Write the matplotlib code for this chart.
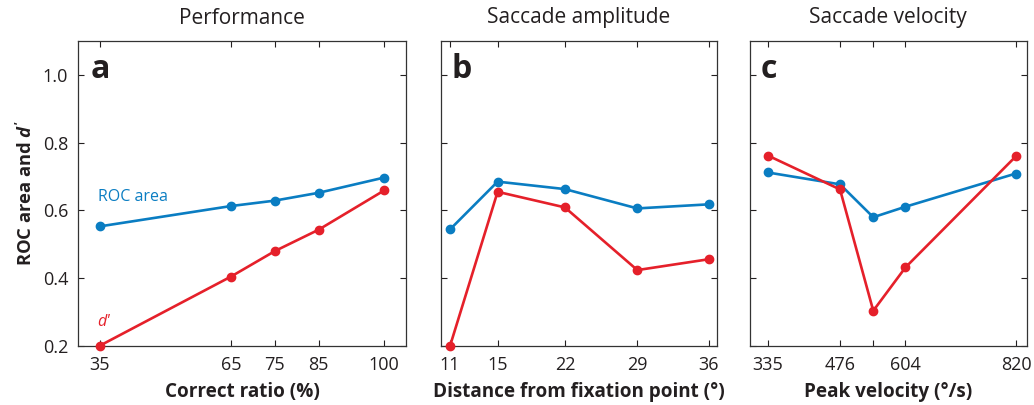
import matplotlib
matplotlib.use("Agg")
import matplotlib.pyplot as plt

plt.rcParams['font.family'] = ['Open Sans', 'DejaVu Sans']
plt.rcParams['mathtext.fontset'] = 'custom'
plt.rcParams['mathtext.bfit'] = 'Open Sans:bold:italic'
plt.rcParams['mathtext.it'] = 'Open Sans:italic'
plt.rcParams['mathtext.rm'] = 'Open Sans'

TXT = '#231f20'
BLUE = '#0a7dc2'
RED = '#e5202a'

# Panel a: performance
a_x = [35, 65, 75, 85, 100]
a_ticklabels = ['35', '65', '75', '85', '100']
a_roc = [0.553, 0.613, 0.629, 0.652, 0.697]
a_d = [0.201, 0.405, 0.480, 0.543, 0.659]

# Panel b: saccade amplitude
b_x = [11, 15.6, 22.1, 29.1, 36]
b_ticklabels = ['11', '15', '22', '29', '36']
b_roc = [0.544, 0.685, 0.663, 0.606, 0.618]
b_d = [0.200, 0.655, 0.609, 0.424, 0.456]

# Panel c: saccade velocity
c_x = [335, 476, 541, 604, 820]
c_ticklabels = ['335', '476', '', '604', '820']
c_roc = [0.712, 0.677, 0.580, 0.611, 0.709]
c_d = [0.762, 0.662, 0.304, 0.432, 0.760]

titles = ['Performance', 'Saccade amplitude', 'Saccade velocity']
letters = ['a', 'b', 'c']
xlabels = ['Correct ratio (%)', 'Distance from fixation point (°)', 'Peak velocity (°/s)']
yticks = [0.2, 0.4, 0.6, 0.8, 1.0]
ytick_labels = ['0.2', '0.4', '0.6', '0.8', '1.0']

fig = plt.figure(figsize=(10.34, 4.05), dpi=100)
H = 405
bottom = 1 - 346 / H
top = 1 - 41 / H
lefts = [78, 440.7, 750]
rights = [406, 716.7, 1026.7]
xlims = [(30, 105), (10.1, 36.77), (300, 841)]

panels = [(a_x, a_ticklabels, a_roc, a_d), (b_x, b_ticklabels, b_roc, b_d),
          (c_x, c_ticklabels, c_roc, c_d)]

for i, (xs, xtl, roc, dd) in enumerate(panels):
    l = lefts[i] / 1034
    w = (rights[i] - lefts[i]) / 1034
    ax = fig.add_axes([l, bottom, w, top - bottom])
    ax.plot(xs, roc, color=BLUE, lw=1.9, marker='o', ms=6, clip_on=False, zorder=3)
    ax.plot(xs, dd, color=RED, lw=1.9, marker='o', ms=6, clip_on=False, zorder=4)
    ax.set_xlim(*xlims[i])
    ax.set_ylim(0.2, 1.1)
    ax.set_xticks(xs)
    ax.set_xticklabels(xtl)
    ax.set_yticks(yticks)
    if i == 0:
        ax.set_yticklabels(ytick_labels)
        ax.set_ylabel(r"ROC area and $\mathbfit{d'}$", fontsize=13.2, fontweight='bold',
                      color=TXT, labelpad=5)
    else:
        ax.set_yticklabels([])
    ax.tick_params(direction='in', top=True, right=True, length=4, width=0.8,
                   colors=TXT, labelsize=13, pad=7)
    for s in ax.spines.values():
        s.set_color('#333333')
        s.set_linewidth(0.9)
    ax.set_xlabel(xlabels[i], fontsize=13.6, fontweight='bold', color=TXT, labelpad=6)
    ax.text(0.5, 1.0 + 23 / 305, titles[i], transform=ax.transAxes, ha='center',
            va='center', fontsize=15, color=TXT)
    ax.text(0.04, 0.96, letters[i], transform=ax.transAxes, ha='left', va='top',
            fontsize=23, fontweight='bold', color=TXT)
    if i == 0:
        ax.text(34.5, 0.641, 'ROC area', color=BLUE, fontsize=11.5, ha='left', va='center')
        ax.text(34.5, 0.272, "d'", color=RED, fontsize=11.5, ha='left', va='center',
                style='italic')

fig.savefig('out.png', dpi=100)
